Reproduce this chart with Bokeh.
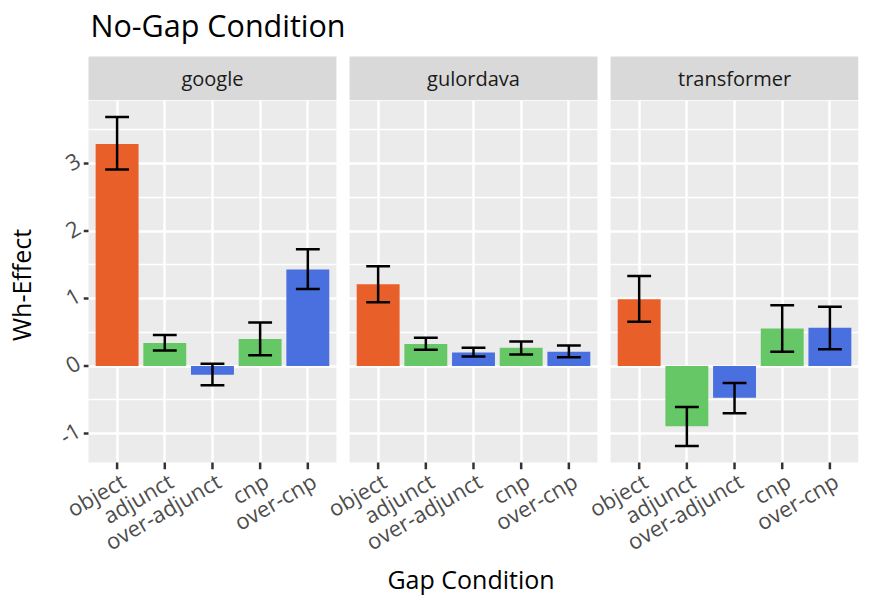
import math
from bokeh.plotting import figure
from bokeh.layouts import column
from bokeh.models import Range1d, FixedTicker, Label, BoxAnnotation
from bokeh.embed import file_html
from bokeh.resources import INLINE

# ---------------- data ----------------
categories = ["object", "adjunct", "over-adjunct", "cnp", "over-cnp"]
bar_colors = ["#E95F2A", "#66C766", "#4A6FDE", "#66C766", "#4A6FDE"]
models = ["google", "gulordava", "transformer"]

google_mean = [3.29, 0.34, -0.13, 0.40, 1.43]
google_lo = [2.91, 0.23, -0.285, 0.16, 1.14]
google_hi = [3.69, 0.46, 0.035, 0.645, 1.73]

gulordava_mean = [1.21, 0.325, 0.20, 0.27, 0.21]
gulordava_lo = [0.945, 0.24, 0.14, 0.17, 0.13]
gulordava_hi = [1.48, 0.42, 0.27, 0.365, 0.305]

transformer_mean = [0.99, -0.89, -0.47, 0.555, 0.567]
transformer_lo = [0.655, -1.185, -0.70, 0.21, 0.25]
transformer_hi = [1.335, -0.605, -0.25, 0.90, 0.88]

y_ticks = [-1, 0, 1, 2, 3]
y_minor = [-0.5, 0.5, 1.5, 2.5, 3.5]

series = {
    "google": (google_mean, google_lo, google_hi),
    "gulordava": (gulordava_mean, gulordava_lo, gulordava_hi),
    "transformer": (transformer_mean, transformer_lo, transformer_hi),
}

# ---------------- layout / style ----------------
FONT = "Open Sans"
TICK_FONT = "22px"
PANEL_LEFT = 88        # px where the first panel starts
RIGHT = 6
PANEL_H = 362          # px of data panel
TOP_H = 100            # px of title + facet strips area
STRIP_H = 44           # px of facet strip
X_TICK_LEN = 7         # px
Y_TICK_LEN = 5         # px
PANEL_W_UNITS = len(categories) + 0.2   # ggplot discrete expansion 0.6 each side
STEP = 5.475           # panel-to-panel offset in x units
PX_PER_X = 248 / PANEL_W_UNITS
N = len(models)
x_start = 0.4
x_end = x_start + STEP * (N - 1) + PANEL_W_UNITS
PANELS_W = (x_end - x_start) * PX_PER_X

all_lo = min(min(v[1]) for v in series.values())
all_hi = max(max(v[2]) for v in series.values())
span = all_hi - all_lo
y_start, y_end = all_lo - 0.05 * span, all_hi + 0.05 * span
PX_PER_Y = PANEL_H / (y_end - y_start)

# frame also holds the tick-mark zones (left of / below the panels)
fx_start = x_start - Y_TICK_LEN / PX_PER_X
fy_start = y_start - X_TICK_LEN / PX_PER_Y
FRAME_W = int(round(PANELS_W + Y_TICK_LEN))
FRAME_H = PANEL_H + X_TICK_LEN
LEFT = PANEL_LEFT - Y_TICK_LEN

# label anchor nudges (ggplot angle=30, hjust=1 placement)
X_LABEL_SHIFT = 6 / PX_PER_X
Y_LABEL_SHIFT = 5 / PX_PER_Y

x_range = Range1d(fx_start, x_end)

# ---------- top figure: title + facet strips ----------
top = figure(frame_width=FRAME_W, frame_height=TOP_H, toolbar_location=None,
             output_backend="svg", x_range=x_range, y_range=Range1d(0, TOP_H),
             x_axis_location=None, y_axis_location=None,
             min_border_left=LEFT, min_border_right=RIGHT, min_border_top=0,
             min_border_bottom=0, background_fill_color="white",
             border_fill_color="white", outline_line_color=None)
top.grid.visible = False

# ---------- main figure ----------
p = figure(frame_width=FRAME_W, frame_height=FRAME_H,
           toolbar_location=None, output_backend="svg",
           x_range=x_range, y_range=Range1d(fy_start, y_end),
           min_border_left=LEFT, min_border_right=RIGHT, min_border_top=0,
           min_border_bottom=10, background_fill_color="white",
           border_fill_color="white", outline_line_color=None)

tick_pos = []
label_pos = []
label_map = {}
for i, m in enumerate(models):
    mean, lo, hi = series[m]
    off = i * STEP
    xs = [k + 1 + off for k in range(len(categories))]
    left = x_start + off
    right = left + PANEL_W_UNITS

    # facet strip
    top.add_layout(BoxAnnotation(left=left, right=right, bottom=0, top=STRIP_H,
                                 fill_color="#D9D9D9", fill_alpha=1, line_color=None))
    top.add_layout(Label(x=(left + right) / 2, y=STRIP_H / 2, text=m,
                         text_font=FONT, text_font_size="20px", text_color="#1A1A1A",
                         text_align="center", text_baseline="middle"))

    # panel background
    p.add_layout(BoxAnnotation(left=left, right=right, bottom=y_start, top=y_end,
                               fill_color="#EBEBEB", fill_alpha=1, line_color=None,
                               level="image"))

    p.vbar(x=xs, top=mean, bottom=0, width=0.9, fill_color=bar_colors,
           line_color=None)
    p.segment(x0=xs, y0=lo, x1=xs, y1=hi, line_color="black", line_width=2.5)
    p.segment(x0=[x - 0.25 for x in xs], y0=lo, x1=[x + 0.25 for x in xs], y1=lo,
              line_color="black", line_width=2.5)
    p.segment(x0=[x - 0.25 for x in xs], y0=hi, x1=[x + 0.25 for x in xs], y1=hi,
              line_color="black", line_width=2.5)

    for x, c in zip(xs, categories):
        tick_pos.append(x)
        lp = x + X_LABEL_SHIFT
        label_pos.append(lp)
        label_map[lp] = c

# tick marks (ggplot style, outside the panels)
p.segment(x0=tick_pos, y0=[y_start] * len(tick_pos), x1=tick_pos,
          y1=[fy_start] * len(tick_pos), line_color="#333333", line_width=2.5)
p.segment(x0=[fx_start] * len(y_ticks), y0=y_ticks, x1=[x_start] * len(y_ticks),
          y1=y_ticks, line_color="#333333", line_width=2.5)

# plot title
top.add_layout(Label(x=x_start + 2 / PX_PER_X, y=TOP_H - 24,
                     text="No-Gap Condition", text_font=FONT, text_font_size="30.5px",
                     text_color="black", text_align="left", text_baseline="middle"))

# grids
p.xgrid.ticker = FixedTicker(ticks=tick_pos)
p.ygrid.ticker = FixedTicker(ticks=y_ticks, minor_ticks=y_minor)
p.grid.grid_line_color = "white"
p.grid.grid_line_width = 2.5
p.ygrid.minor_grid_line_color = "white"
p.ygrid.minor_grid_line_width = 1.3


def label_only(axis, ticks, overrides, standoff):
    axis.ticker = FixedTicker(ticks=ticks)
    axis.major_label_overrides = overrides
    axis.axis_line_color = None
    axis.major_tick_line_color = None
    axis.major_tick_in = 0
    axis.major_tick_out = 0
    axis.minor_tick_line_color = None
    axis.major_label_orientation = math.pi / 6
    axis.major_label_text_font = FONT
    axis.major_label_text_font_size = TICK_FONT
    axis.major_label_text_color = "#4D4D4D"
    axis.major_label_standoff = standoff
    axis.axis_label_text_font = FONT
    axis.axis_label_text_font_size = "25px"
    axis.axis_label_text_font_style = "normal"
    axis.axis_label_text_color = "black"


# x axis labels
xl = p.xaxis[0]
label_only(xl, label_pos, label_map, 9)
xl.axis_label = "Gap Condition"
xl.axis_label_standoff = -10

# y axis labels
y_label_pos = [t + Y_LABEL_SHIFT for t in y_ticks]
y_label_map = {lp: str(t) for lp, t in zip(y_label_pos, y_ticks)}
yl = p.yaxis[0]
label_only(yl, y_label_pos, y_label_map, 5)
yl.axis_label = "Wh-Effect"
yl.axis_label_standoff = 12

layout = column(top, p, spacing=0)
open("out.html", "w").write(file_html(layout, INLINE, title="No-Gap Condition"))
